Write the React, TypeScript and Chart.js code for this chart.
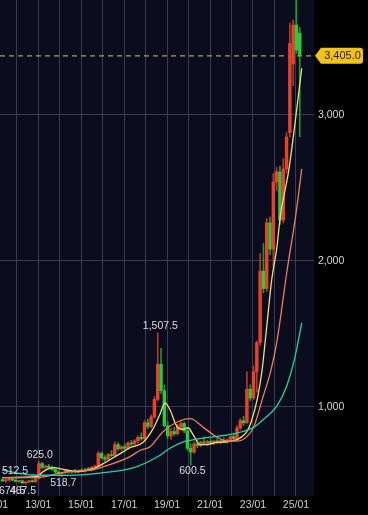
import React, { useEffect, useRef } from 'react';
import { Chart, registerables } from 'chart.js';

Chart.register(...registerables);

// ---- Candles (index 0..90) ----
const OPEN = [500, 492, 498, 503, 496, 488, 492, 478, 484, 490, 486, 510, 610, 585, 592, 583, 570, 552, 540, 548, 555, 550, 558, 552, 563, 560, 572, 568, 585, 590, 680, 650, 640, 672, 665, 740, 712, 725, 715, 750, 745, 765, 790, 780, 890, 865, 930, 1050, 1290, 1110, 870, 800, 830, 815, 860, 885, 835, 715, 690, 745, 735, 758, 750, 762, 752, 765, 755, 768, 760, 772, 795, 780, 855, 905, 890, 1120, 1060, 1240, 1440, 1930, 1810, 2260, 2080, 2540, 2610, 2280, 2630, 2880, 3350, 3616, 3560];
const HIGH = [510, 505, 509, 512.5, 502, 496, 498, 488, 495, 500, 512, 625, 618, 600, 605, 595, 580, 565, 552, 562, 566, 562, 570, 568, 575, 578, 585, 590, 600, 695, 690, 665, 680, 700, 760, 755, 735, 745, 760, 770, 775, 800, 820, 905, 915, 945, 1070, 1507.5, 1400, 1150, 900, 850, 860, 880, 900, 895, 850, 745, 760, 770, 765, 790, 770, 780, 770, 780, 775, 785, 780, 800, 810, 870, 920, 935, 1240, 1150, 1280, 1450, 2050, 2120, 2290, 2300, 2600, 2640, 2650, 2700, 2880, 3630, 3650, 3800, 3600];
const LOW = [488, 480, 490, 494, 485, 478, 472, 467.5, 478, 482, 480, 505, 575, 570, 578, 565, 545, 530, 518.7, 538, 545, 542, 548, 545, 555, 552, 562, 560, 575, 585, 640, 625, 630, 655, 660, 700, 700, 705, 708, 730, 735, 750, 770, 775, 850, 855, 920, 1040, 1090, 860, 780, 775, 800, 805, 840, 820, 700, 600.5, 680, 720, 725, 740, 735, 745, 740, 748, 745, 752, 750, 762, 770, 775, 840, 870, 885, 1040, 1050, 1100, 1420, 1780, 1790, 2040, 1960, 2480, 2250, 2260, 2600, 2850, 3200, 3420, 2850];
const CLOSE = [492, 498, 503, 496, 488, 492, 478, 484, 490, 486, 505, 610, 585, 592, 583, 570, 552, 540, 548, 555, 550, 558, 552, 563, 560, 572, 568, 585, 590, 680, 650, 640, 672, 665, 740, 712, 725, 715, 750, 745, 765, 790, 780, 890, 865, 930, 1050, 1290, 1110, 870, 800, 830, 815, 860, 885, 835, 715, 690, 745, 735, 758, 750, 762, 752, 765, 755, 768, 760, 772, 795, 780, 855, 905, 890, 1120, 1060, 1240, 1440, 1930, 1810, 2260, 2080, 2540, 2610, 2280, 2630, 2850, 3490, 3616, 3445, 3405];

// ---- Moving averages (x = candle index) ----
const MA_SHORT_X = [0, 10.4, 12.3, 15.3, 18.9, 22.6, 28, 31, 35, 38.6, 42.5, 45.6, 47.7, 49.2, 50.7, 52.8, 54.7, 56.2, 57.7, 59.8, 61.9, 64.9, 68, 71, 72.5, 74, 75.2, 77.1, 78.6, 80, 81.5, 83, 84.2, 85.5, 86.6, 88.6, 90.6];
const MA_SHORT_Y = [514, 520, 555, 582, 568, 555, 580, 616, 670, 719, 755, 850, 950, 1027, 979, 865, 845, 856, 808, 740, 740, 755, 760, 774, 795, 830, 890, 1048, 1253, 1550, 1870, 2080, 2320, 2480, 2610, 2950, 3320];
const MA_MID_X = [0, 10.4, 19.5, 27.4, 32.5, 38.6, 41.6, 44.7, 48.6, 53.7, 56.8, 61, 65, 68, 71, 74, 76.1, 78.6, 81.3, 83.1, 86.1, 88.8, 90.6];
const MA_MID_Y = [514, 514, 555, 568, 603, 658, 700, 726, 829, 904, 918, 855, 790, 765, 765, 795, 863, 1048, 1253, 1450, 1925, 2315, 2630];
const MA_LONG_X = [0, 9.2, 19.5, 29.5, 39.5, 46.8, 50.7, 55, 58.9, 68.9, 75.8, 78.9, 83, 86, 88.6, 90.6];
const MA_LONG_Y = [565, 532, 530, 545, 580, 655, 715, 760, 778, 810, 856, 911, 1002, 1139, 1345, 1575];

// ---- Axes ----
const X_TICK_POS = [-2.16, 4.34, 10.84, 17.34, 23.84, 30.34, 36.84, 43.34, 49.84, 56.34, 62.84, 69.34, 75.84, 82.34, 88.84];
const X_TICK_LABELS = ['11/01', '', '13/01', '', '15/01', '', '17/01', '', '19/01', '', '21/01', '', '23/01', '', '25/01'];
const X_MIN = -0.757;
const X_MAX = 94.31;
const Y_TICKS = [1000, 2000, 3000];
const Y_MIN = 388;
const Y_MAX = 3788;
const LAST_PRICE = 3405;
const LAST_LABEL = '3,405.0';

// ---- High / low annotations ----
const ANNOT_TEXT = ['1,507.5', '600.5', '625.0', '518.7', '512.5', '674.5', '467.5'];
const ANNOT_X = [47.8, 57.5, 11.3, 18.4, 3.8, 2.9, 6.2];
const ANNOT_VALUE = [1507.5, 600.5, 625, 518.7, 512.5, 467.5, 467.5];
const ANNOT_ABOVE = [true, false, true, false, true, false, false];

const UP = '#e8432a';
const DOWN = '#2ec83a';
const UP_WICK = '#b53a26';
const DOWN_WICK = '#23952f';
const FONT = '"Liberation Sans", Arial, Helvetica, sans-serif';

export default function App() {
  const ref = useRef<HTMLCanvasElement>(null);

  useEffect(() => {
    document.body.style.margin = '0';
    document.body.style.background = '#000';
    const canvas = ref.current;
    if (!canvas) return;

    const idx = OPEN.map((_, i) => i);
    const isUp = idx.map((i) => CLOSE[i] >= OPEN[i]);

    const overlay = {
      id: 'overlay',
      beforeDraw(chart: any) {
        const { ctx, chartArea: ca, width, height } = chart;
        ctx.save();
        ctx.fillStyle = '#000000';
        ctx.fillRect(0, 0, width, height);
        ctx.fillStyle = '#0b0d1e';
        ctx.fillRect(ca.left, ca.top, ca.right - ca.left, ca.bottom - ca.top);
        ctx.restore();
      },
      beforeDatasetsDraw(chart: any) {
        const { ctx, chartArea: ca } = chart;
        const y = chart.scales.y.getPixelForValue(LAST_PRICE);
        ctx.save();
        ctx.strokeStyle = '#b49c5a';
        ctx.lineWidth = 1.3;
        ctx.setLineDash([5, 4]);
        ctx.beginPath();
        ctx.moveTo(ca.left, y);
        ctx.lineTo(ca.right, y);
        ctx.stroke();
        ctx.restore();
      },
      afterDraw(chart: any) {
        const { ctx, chartArea: ca } = chart;
        const xs = chart.scales.x;
        const ys = chart.scales.y;
        ctx.save();
        // x labels
        ctx.font = '10.5px ' + FONT;
        ctx.fillStyle = '#cfcfcf';
        ctx.textAlign = 'center';
        ctx.textBaseline = 'middle';
        X_TICK_POS.forEach((v, k) => {
          if (!X_TICK_LABELS[k]) return;
          ctx.fillText(X_TICK_LABELS[k], xs.getPixelForValue(v), ca.bottom + 9.5);
        });
        // annotations
        ctx.fillStyle = '#dcdcdc';
        ctx.font = '10.5px ' + FONT;
        ANNOT_TEXT.forEach((t, k) => {
          const px = xs.getPixelForValue(ANNOT_X[k]);
          const py = ys.getPixelForValue(ANNOT_VALUE[k]) + (ANNOT_ABOVE[k] ? -6.5 : 6.5);
          ctx.fillText(t, px, py);
        });
        // price tag
        const py = ys.getPixelForValue(LAST_PRICE);
        const left = ca.right + 1;
        const bodyL = left + 6;
        const right = 363;
        const h = 16;
        const top = py - h / 2;
        const r = 3;
        ctx.fillStyle = '#f3c316';
        ctx.beginPath();
        ctx.moveTo(left, py);
        ctx.lineTo(bodyL, top);
        ctx.lineTo(right - r, top);
        ctx.quadraticCurveTo(right, top, right, top + r);
        ctx.lineTo(right, top + h - r);
        ctx.quadraticCurveTo(right, top + h, right - r, top + h);
        ctx.lineTo(bodyL, top + h);
        ctx.closePath();
        ctx.fill();
        ctx.fillStyle = '#1b1b1b';
        ctx.font = '11px ' + FONT;
        ctx.textAlign = 'center';
        ctx.fillText(LAST_LABEL, (bodyL + right) / 2 + 0.5, py + 0.5);
        ctx.restore();
      },
    };

    const lineDs = (xsArr: number[], ysArr: number[], color: string) => ({
      type: 'line' as const,
      data: xsArr.map((x, k) => ({ x, y: ysArr[k] })),
      borderColor: color,
      borderWidth: 1.3,
      pointRadius: 0,
      cubicInterpolationMode: 'monotone' as const,
      fill: false,
      order: 0,
    });

    const zeroPad = (s: any) => {
      s.paddingTop = 0;
      s.paddingBottom = 0;
      s.paddingLeft = 0;
      s.paddingRight = 0;
    };

    const chart = new Chart(canvas, {
      type: 'bar',
      data: {
        datasets: [
          {
            type: 'bar',
            data: idx.map((i) => ({ x: i, y: [LOW[i], HIGH[i]] })) as any,
            backgroundColor: idx.map((i) => (isUp[i] ? UP_WICK : DOWN_WICK)),
            barThickness: 1,
            grouped: false,
            borderWidth: 0,
            order: 3,
          } as any,
          {
            type: 'bar',
            data: idx.map((i) => ({ x: i, y: [OPEN[i], CLOSE[i]] })) as any,
            backgroundColor: idx.map((i) => (isUp[i] ? UP : DOWN)),
            barThickness: 2.8,
            minBarLength: 1,
            grouped: false,
            borderWidth: 0,
            order: 2,
          } as any,
          lineDs(MA_LONG_X, MA_LONG_Y, '#27d3a0') as any,
          lineDs(MA_MID_X, MA_MID_Y, '#e7805f') as any,
          lineDs(MA_SHORT_X, MA_SHORT_Y, '#e9e27d') as any,
        ],
      },
      options: {
        animation: false,
        responsive: false,
        devicePixelRatio: 1,
        events: [],
        layout: { padding: 0 },
        plugins: { legend: { display: false }, tooltip: { enabled: false } },
        scales: {
          x: {
            type: 'linear',
            min: X_MIN,
            max: X_MAX,
            offset: false,
            afterBuildTicks: (s: any) => {
              s.ticks = X_TICK_POS.filter((v) => v >= X_MIN && v <= X_MAX).map((v) => ({ value: v }));
            },
            afterFit: (s: any) => {
              s.height = 19;
              zeroPad(s);
            },
            ticks: { display: false },
            grid: { color: '#3a3d4e', drawTicks: false, offset: false, lineWidth: 1 },
            border: { display: false },
          },
          y: {
            type: 'linear',
            position: 'right',
            min: Y_MIN,
            max: Y_MAX,
            afterBuildTicks: (s: any) => {
              s.ticks = Y_TICKS.map((v) => ({ value: v }));
            },
            afterFit: (s: any) => {
              s.width = 54;
              zeroPad(s);
            },
            ticks: {
              color: '#d6d6d6',
              padding: 4,
              font: { size: 10.5, family: FONT },
              callback: (v: any) => Number(v).toLocaleString('en-US'),
            },
            grid: { color: '#3a3d4e', drawTicks: false, lineWidth: 1 },
            border: { display: false },
          },
        },
      } as any,
      plugins: [overlay],
    });

    return () => chart.destroy();
  }, []);

  return (
    <div style={{ width: 368, height: 515 }}>
      <canvas ref={ref} width={368} height={515} style={{ display: 'block' }} />
    </div>
  );
}
